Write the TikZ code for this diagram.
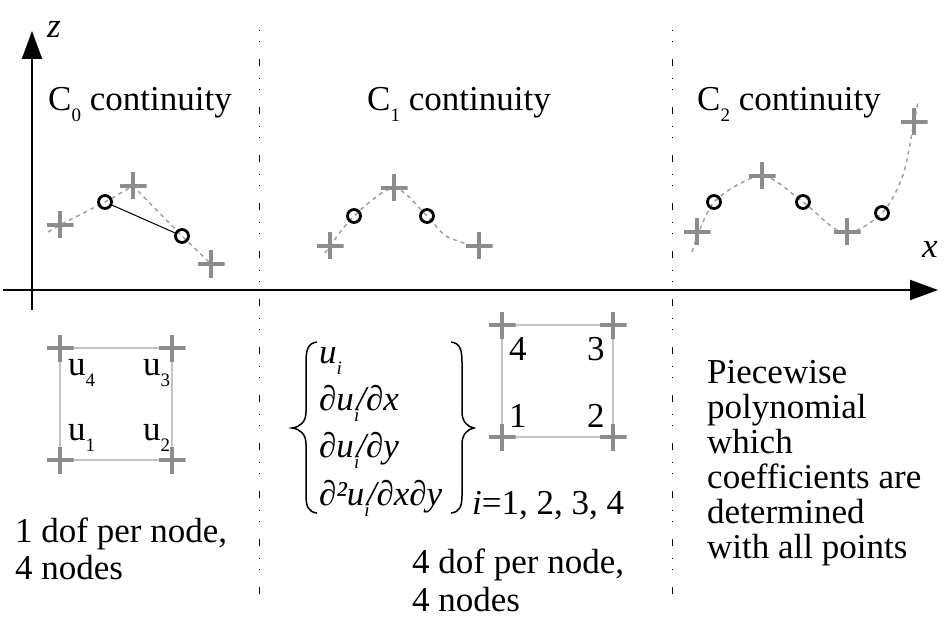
\documentclass[tikz,border=0pt]{standalone}
\usepackage{fontspec}
\setmainfont{Liberation Serif}
\usetikzlibrary{arrows.meta,backgrounds}
\definecolor{crossgray}{HTML}{8C8C8C}
\definecolor{curvegray}{HTML}{A0A0A0}
\definecolor{sqgray}{HTML}{C4C4C4}
\newcommand{\lsub}[1]{\raisebox{-11pt}{\fontsize{19}{19}\selectfont #1}}
\newcommand{\isub}{\raisebox{-11pt}{\fontsize{19}{19}\selectfont\itshape i}}
\begin{document}
\begin{tikzpicture}[x=1pt,y=-1pt,
  txt/.style={inner sep=0pt, anchor=base west, font=\fontsize{35}{37}\selectfont},
  plusmk/.style={inner sep=0pt, minimum size=27pt, path picture={\draw[crossgray,line width=3.2pt] (path picture bounding box.north) -- (path picture bounding box.south) (path picture bounding box.west) -- (path picture bounding box.east);}},
  knot/.style={circle, draw=black, line width=2.8pt, minimum size=13pt, inner sep=0pt},
  dashcurve/.style={curvegray, line width=1.5pt, dash pattern=on 4pt off 4pt},
  divider/.style={black, line width=1pt, dash pattern=on 7pt off 12pt on 1pt off 10pt on 1pt off 17pt, dash phase=17pt},
  axisline/.style={line width=2pt, -{Triangle[length=28pt,width=20pt]}},
  sqline/.style={sqgray, line width=1.5pt},
  bracestroke/.style={line width=1.5pt}
]
\useasboundingbox (0,0) rectangle (947,628);

% axes
\coordinate (xs) at (3,290);
\coordinate (xe) at (938,290);
\coordinate (zs) at (32,310);
\coordinate (ze) at (32,31);
\draw[axisline] (xs) -- (xe);
\draw[axisline] (zs) -- (ze);
\node[txt, font=\fontsize{35}{37}\selectfont\itshape] (zlab) at (47,38) {z};
\node[txt, font=\fontsize{35}{37}\selectfont\itshape] (xlab) at (922,258) {x};

% dividers
\coordinate (d1t) at (259,28);
\coordinate (d1b) at (259,598);
\coordinate (d2t) at (672,28);
\coordinate (d2b) at (672,598);
\draw[divider] (d1t) -- (d1b);
\draw[divider] (d2t) -- (d2b);

% titles
\node[txt] (t0) at (48,111) {C\lsub{0} continuity};
\node[txt] (t1) at (367,111) {C\lsub{1} continuity};
\node[txt] (t2) at (697,111) {C\lsub{2} continuity};

% C0 panel
\coordinate (a0) at (48,232);
\node[plusmk] (p01) at (60,225) {};
\node[knot] (k01) at (105,202) {};
\node[plusmk] (p02) at (133,186) {};
\node[knot] (k02) at (182,236) {};
\node[plusmk] (p03) at (211,264) {};
\draw[line width=1pt] (k01) -- (k02);

% C1 panel
\coordinate (a1) at (325,253);
\node[plusmk] (p11) at (330,246) {};
\node[knot] (k11) at (354,216) {};
\node[plusmk] (p12) at (394,188) {};
\node[knot] (k12) at (427,216) {};
\node[plusmk] (p13) at (479,246) {};
\coordinate (c1m) at (446,236);
\coordinate (b1) at (474,246);

% C2 panel
\coordinate (a2) at (692,252);
\node[plusmk] (p21) at (697,232) {};
\node[knot] (k21) at (714,202) {};
\node[plusmk] (p22) at (762,176) {};
\node[knot] (k22) at (803,202) {};
\node[plusmk] (p23) at (847,232) {};
\node[knot] (k23) at (882,213) {};
\node[plusmk] (p24) at (914,122) {};
\coordinate (c2m) at (844,233);
\coordinate (c2n) at (903,175);
\coordinate (b2) at (918,102);

% left element
\node[plusmk] (s1) at (60,460) {};
\node[plusmk] (s2) at (172,460) {};
\node[plusmk] (s3) at (172,348) {};
\node[plusmk] (s4) at (60,348) {};
\node[txt] (u4) at (68,375) {u\lsub{4}};
\node[txt] (u3) at (143,375) {u\lsub{3}};
\node[txt] (u1) at (68,440) {u\lsub{1}};
\node[txt] (u2) at (143,440) {u\lsub{2}};

% middle element
\node[plusmk] (q1) at (502,437) {};
\node[plusmk] (q2) at (613,437) {};
\node[plusmk] (q3) at (613,325) {};
\node[plusmk] (q4) at (502,325) {};
\node[txt] (lab4) at (509,360) {4};
\node[txt] (lab3) at (587,360) {3};
\node[txt] (lab1) at (509,427) {1};
\node[txt] (lab2) at (587,427) {2};

% background strokes
\begin{pgfonlayer}{background}
\draw[dashcurve] (a0) -- (p01.center) -- (k01.center) -- (p02.center) -- (k02.center) -- (p03.center);
\draw[dashcurve] plot[smooth] coordinates {(a1) (k11.center) (p12.center) (k12.center) (c1m) (b1)};
\draw[dashcurve] plot[smooth] coordinates {(a2) (k21.center) (p22.center) (k22.center) (c2m) (k23.center) (c2n) (p24.center) (b2)};
\draw[sqline] (s1.center) -- (s2.center) -- (s3.center) -- (s4.center) -- cycle;
\draw[sqline] (q1.center) -- (q2.center) -- (q3.center) -- (q4.center) -- cycle;
\end{pgfonlayer}

% braces
\draw[bracestroke] (317,342) .. controls (308,343) and (306,350) .. (306,362) -- (306,412) .. controls (306,422) and (300,427) .. (292,428) .. controls (300,429) and (306,434) .. (306,444) -- (306,495) .. controls (306,506) and (308,512) .. (317,513);
\draw[bracestroke] (451,342) .. controls (460,343) and (462,350) .. (462,362) -- (462,412) .. controls (462,422) and (468,427) .. (474,428) .. controls (468,429) and (462,434) .. (462,444) -- (462,495) .. controls (462,506) and (460,512) .. (451,513);

% formula
\node[txt] (f1) at (319,363) {\itshape u\isub};
\node[txt] (f2) at (319,410) {\itshape ∂u\isub\kern-3pt/∂x};
\node[txt] (f3) at (319,457) {\itshape ∂u\isub\kern-3pt/∂y};
\node[txt] (f4) at (319,505) {\itshape ∂²u\isub\kern-3pt/∂x∂y};
\node[txt] (ilist) at (472,514) {\itshape i\upshape =1, 2, 3, 4};

% captions
\node[txt] (l1) at (15,542) {1 dof per node,};
\node[txt] (l2) at (15,579) {4 nodes};
\node[txt] (m1t) at (412,573) {4 dof per node,};
\node[txt] (m2t) at (412,611) {4 nodes};
\node[txt] (r1) at (707,383) {Piecewise};
\node[txt] (r2) at (707,418) {polynomial};
\node[txt] (r3) at (707,453) {which};
\node[txt] (r4) at (707,488) {coefficients are};
\node[txt] (r5) at (707,523) {determined};
\node[txt] (r6) at (707,558) {with all points};
\end{tikzpicture}
\end{document}
